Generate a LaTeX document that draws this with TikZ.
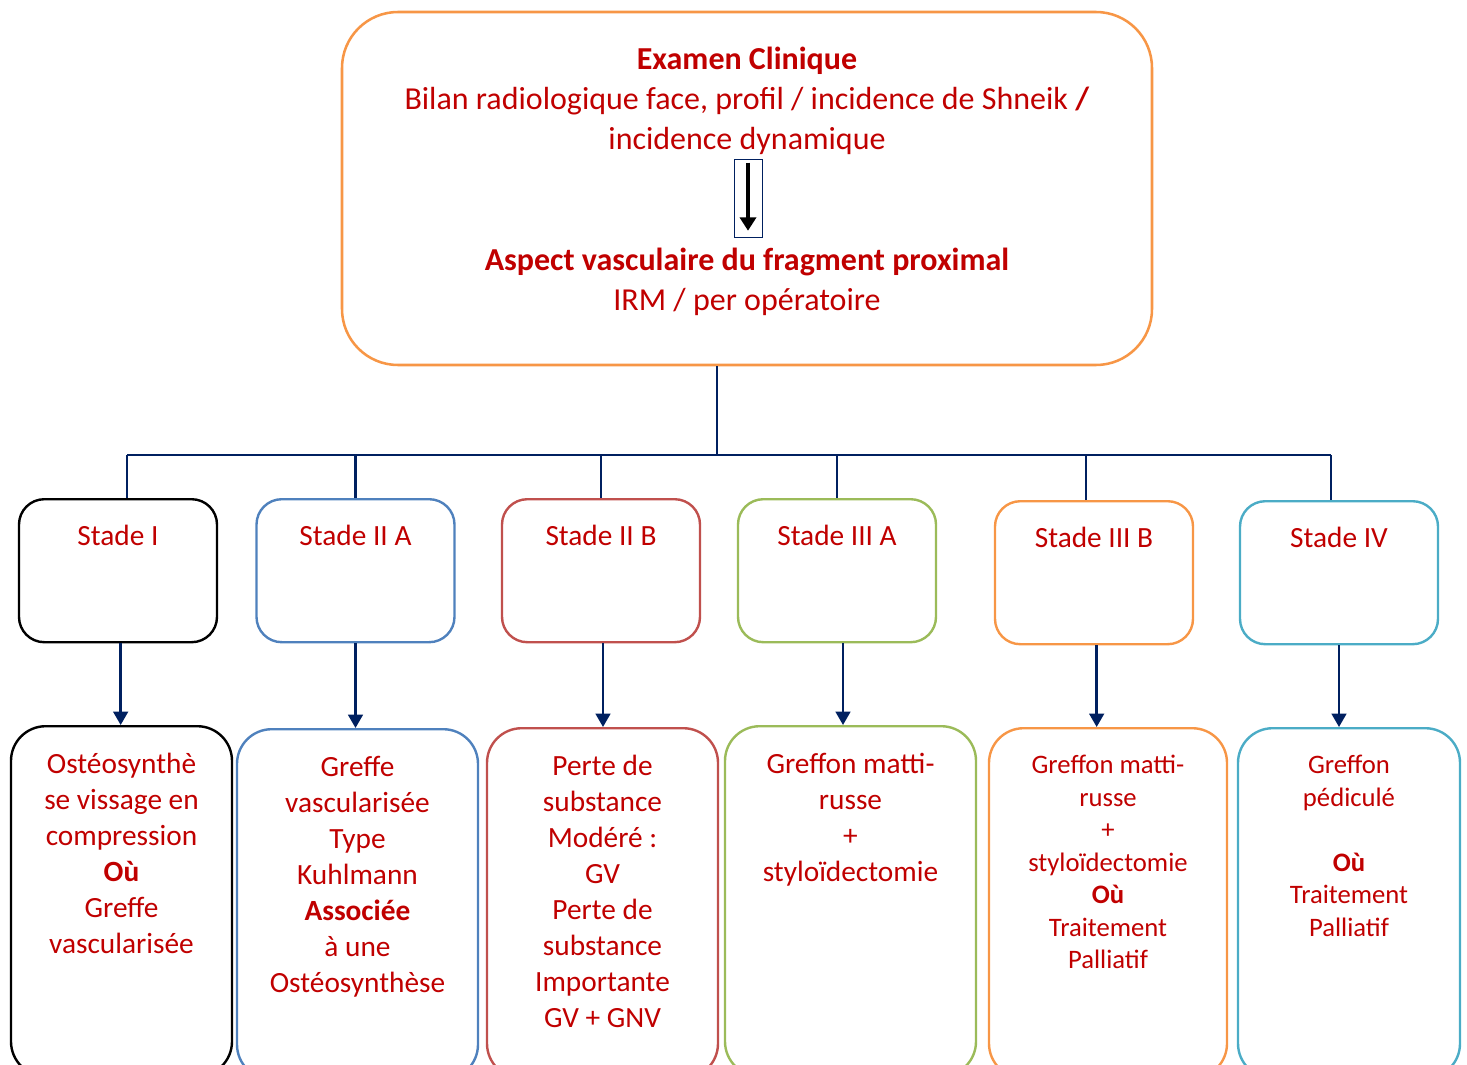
\documentclass[tikz,border=0pt]{standalone}
\usepackage{fontspec}
\setmainfont{Carlito}
\usetikzlibrary{arrows.meta}

\definecolor{rouge}{HTML}{C00000}
\definecolor{marine}{HTML}{002060}
\definecolor{bleub}{HTML}{4F81BD}
\definecolor{rougeb}{HTML}{C0504D}
\definecolor{vertb}{HTML}{9BBB59}
\definecolor{orangeb}{HTML}{F79646}
\definecolor{cyanb}{HTML}{4BACC6}

\begin{document}
\begin{tikzpicture}[x=0.75pt, y=-0.75pt,
    lien/.style={draw=marine, line width=1.8pt},
    fleche/.style={lien, -{Triangle[width=11pt,length=10pt]}},
    stade/.style={draw=#1, line width=1.8pt, rounded corners=19pt, inner sep=0pt,
                  anchor=north, text=rouge, font=\fontsize{22}{27}\selectfont,
                  minimum width=148.5pt, text height=34.5pt, text depth=72.75pt},
    choix/.style={draw=#1, line width=1.8pt, rounded corners=26pt, inner sep=0pt,
                  anchor=north, text=rouge, font=\fontsize{22}{27}\selectfont,
                  text height=35.25pt, text depth=227.25pt},
    petit/.style={font=\fontsize{20}{24.4}\selectfont, text height=34pt, text depth=228.5pt},
    haut/.style={anchor=base, inner sep=0pt, text=rouge, font=\fontsize{24}{30}\selectfont}]

    \useasboundingbox (0,0) rectangle (1467,1064);
    \clip (0,0) rectangle (1467,1064);

    % Examen clinique box with its inner arrow
    \node[draw=orangeb, line width=1.9pt, rounded corners=42pt,
          minimum width=607.5pt, minimum height=264.75pt] (exam) at (747,188.5) {};
    \node[haut] (clin) at (747,69) {\parbox[t]{560pt}{\centering
        \textbf{Examen Clinique}\\
        Bilan radiologique face, profil / incidence de Shneik \textbf{/}\\
        incidence dynamique}};
    \node[draw=marine, line width=0.6pt, inner sep=0pt,
          minimum width=21pt, minimum height=58.5pt] (fl) at (748,198) {};
    \draw[black, line width=2.6pt, -{Triangle[width=12pt,length=10pt]}]
        ([yshift=-3pt]fl.north) -- ([yshift=5pt]fl.south);  % down arrow
    \node[haut] (vasc) at (747,270) {\parbox[t]{560pt}{\centering
        \textbf{Aspect vasculaire du fragment proximal}\\
        IRM / per opératoire}};

    % Stades
    \node[stade=black] (s1) at (118,498) {Stade I};
    \node[stade=bleub] (s2) at (355.5,498) {Stade II A};
    \node[stade=rougeb] (s3) at (601,498) {Stade II B};
    \node[stade=vertb] (s4) at (837,498) {Stade III A};
    \node[stade=orangeb] (s5) at (1094,500) {Stade III B};
    \node[stade=cyanb] (s6) at (1339,500) {Stade IV};

    % Traitements
    \node[choix=black, minimum width=165.75pt] (t1) at (121.5,725) {\parbox[t]{150pt}{\centering
        Ostéosynthè\\ se vissage en\\ compression\\ \textbf{Où}\\ Greffe\\ vascularisée}};
    \node[choix=bleub, minimum width=180.75pt] (t2) at (357.5,728) {\parbox[t]{150pt}{\centering
        Greffe\\ vascularisée\\ Type\\ Kuhlmann\\ \textbf{Associée}\\ à une\\ Ostéosynthèse}};
    \node[choix=rougeb, minimum width=173.25pt] (t3) at (602.5,727) {\parbox[t]{150pt}{\centering
        Perte de\\ substance\\ Modéré :\\ GV\\ Perte de\\ substance\\ Importante\\ GV + GNV}};
    \node[choix=vertb, minimum width=188.25pt] (t4) at (850.5,725) {\parbox[t]{150pt}{\centering
        Greffon matti-\\ russe\\ +\\ styloïdectomie}};
    \node[choix=orangeb, petit, minimum width=178.5pt] (t5) at (1108,727) {\parbox[t]{150pt}{\centering
        Greffon matti-\\ russe\\ +\\ styloïdectomie\\ \textbf{Où}\\ Traitement\\ Palliatif}};
    \node[choix=cyanb, petit, minimum width=166.5pt] (t6) at (1349,727) {\parbox[t]{150pt}{\centering
        Greffon\\ pédiculé\\ \mbox{}\\ \textbf{Où}\\ Traitement\\ Palliatif}};

    % Liens
    \coordinate (bus) at (717,455);
    \draw[lien] ([xshift=-22.5pt]exam.south) -- ([xshift=-22.5pt]exam.south |- bus);
    \draw[lien] ([xshift=6.75pt]s1.north |- bus) -- ([xshift=-6pt]s6.north |- bus);
    \foreach \n/\dx in {1/6.75pt,2/0pt,3/0pt,4/0pt,5/-6pt,6/-6pt}
        \draw[lien] ([xshift=\dx]s\n.north |- bus) -- ([xshift=\dx]s\n.north);
    \foreach \n/\dx in {1/2pt,2/0pt,3/1.5pt,4/4.5pt,5/2pt,6/0pt}
        \draw[fleche] ([xshift=\dx]s\n.south) -- ([xshift=\dx]s\n.south |- t\n.north);
\end{tikzpicture}
\end{document}
